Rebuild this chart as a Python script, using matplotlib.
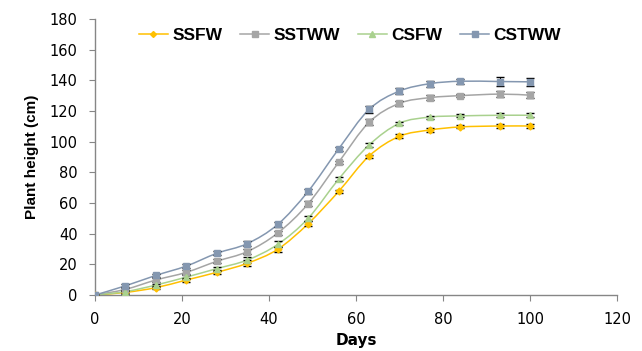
import matplotlib
matplotlib.use("Agg")
import matplotlib.pyplot as plt
from matplotlib.path import Path
from matplotlib.patches import PathPatch
from matplotlib.lines import Line2D
import numpy as np

plt.rcParams['font.family'] = ['Liberation Sans', 'DejaVu Sans']

days = [0, 7, 14, 21, 28, 35, 42, 49, 56, 63, 70, 77, 84, 93, 100]
ssfw = [0, 1.7, 4.8, 9.8, 14.8, 20.7, 29.8, 46.5, 67.5, 90.6, 103.5, 107.6, 109.6, 110.2, 110.2]
sstww = [0, 3.7, 9.8, 14.8, 22.0, 28.3, 40.4, 59.5, 86.5, 112.6, 125.0, 128.7, 130.0, 131.0, 130.3]
csfw = [0, 2.2, 6.5, 11.7, 17.2, 22.8, 33.0, 50.0, 75.5, 97.8, 112.0, 116.0, 116.8, 117.2, 117.2]
cstww = [0, 6.0, 12.8, 18.9, 27.2, 33.5, 46.0, 67.6, 95.2, 121.0, 133.0, 137.8, 139.4, 139.2, 139.0]
ssfw_err = [0.3, 0.8, 1.0, 1.2, 1.3, 2.0, 1.8, 1.5, 1.2, 1.0, 1.2, 1.0, 1.0, 1.2, 1.2]
sstww_err = [0.3, 0.8, 1.0, 1.2, 1.3, 1.5, 1.5, 1.5, 1.2, 2.0, 1.5, 1.5, 1.2, 2.0, 1.8]
csfw_err = [0.3, 0.8, 1.0, 1.2, 1.3, 1.8, 2.0, 1.8, 1.2, 1.0, 1.0, 1.0, 1.0, 1.2, 1.2]
cstww_err = [0.3, 1.0, 1.2, 1.2, 1.3, 1.5, 1.5, 1.5, 1.2, 2.5, 2.0, 2.0, 1.5, 3.0, 2.5]
labels = ["SSFW", "SSTWW", "CSFW", "CSTWW"]

series = [
    (ssfw, ssfw_err, "#FFC000", "D", 3.5),
    (sstww, sstww_err, "#A5A5A5", "s", 4.5),
    (csfw, csfw_err, "#A9D18E", "^", 4.5),
    (cstww, cstww_err, "#8497B0", "s", 4.5),
]

fig = plt.figure(figsize=(6.42, 3.51), dpi=100)
ax = fig.add_axes([0.148, 0.1595, 0.813, 0.7865])


def smooth_path(x, y):
    x = np.asarray(x, float)
    y = np.asarray(y, float)
    n = len(x)
    verts = [(x[0], y[0])]
    codes = [Path.MOVETO]
    for i in range(n - 1):
        i0 = max(i - 1, 0)
        i3 = min(i + 2, n - 1)
        c1 = (x[i] + (x[i + 1] - x[i0]) / 6, y[i] + (y[i + 1] - y[i0]) / 6)
        c2 = (x[i + 1] - (x[i3] - x[i]) / 6, y[i + 1] - (y[i3] - y[i]) / 6)
        verts += [c1, c2, (x[i + 1], y[i + 1])]
        codes += [Path.CURVE4] * 3
    return Path(verts, codes)


handles = []
for (vals, err, col, mk, ms), lab in zip(series, labels):
    patch = PathPatch(smooth_path(days, vals), facecolor='none', edgecolor=col, lw=1.1, zorder=2)
    ax.add_patch(patch)
    ax.errorbar(days, vals, yerr=err, fmt='none', ecolor='black', elinewidth=0.8,
                capsize=3, capthick=1.0, zorder=3)
    ax.plot(days, vals, linestyle='none', marker=mk, color=col, markersize=ms,
            markeredgecolor=col, zorder=4)
    handles.append(Line2D([], [], color=col, lw=1.1, marker=mk, markersize=ms - 0.5,
                          markeredgecolor=col, label=lab))

ax.set_xlim(0, 120)
ax.set_ylim(0, 180)
ax.set_xticks(np.arange(0, 121, 20))
ax.set_yticks(np.arange(0, 181, 20))
for s in ['top', 'right']:
    ax.spines[s].set_visible(False)
for s in ['left', 'bottom']:
    ax.spines[s].set_color('#868686')
    ax.spines[s].set_linewidth(1.0)
ax.tick_params(axis='both', direction='out', length=4, color='#868686', labelsize=10.5,
               labelcolor='black', pad=8.5)
for t in ax.get_xticklabels() + ax.get_yticklabels():
    t.set_family('DejaVu Sans')
ax.set_xlabel("Days", fontsize=11, fontweight='bold', labelpad=4, family='DejaVu Sans')
ax.set_ylabel("Plant height (cm)", fontsize=11, fontweight='bold', labelpad=8)

leg = fig.legend(handles=handles, loc='center', bbox_to_anchor=(0.545, 0.9), ncol=4,
                 frameon=False, prop={'weight': 'bold', 'size': 12.5},
                 handlelength=1.7, handletextpad=0.25, columnspacing=1.0)

fig.savefig("out.png", dpi=100)
